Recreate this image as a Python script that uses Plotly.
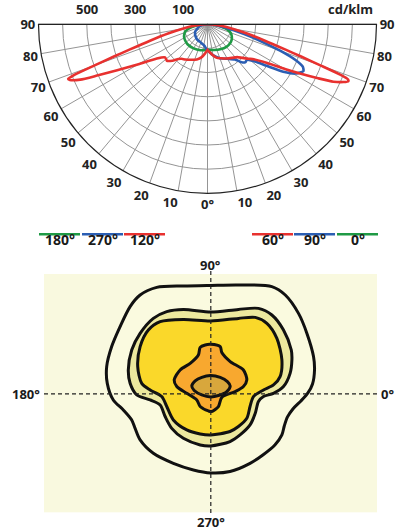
import plotly.graph_objects as go

# ---------------- data: polar intensity curves (gamma in degrees, cd/klm) -------------
# C0 (right) / C180 (left)  -> green
G_C0 = [0, 15, 27, 40, 50, 57, 63, 69, 73, 77, 81, 85, 88, 90]
I_C0 = [106, 110, 116, 122, 122, 119, 113, 104, 92, 76, 56, 32, 12, 0]
G_C180 = [0, 15, 30, 45, 55, 62, 68, 72, 76, 80, 84, 87, 90]
I_C180 = [106, 111, 115, 117, 114, 110, 103, 97, 84, 66, 45, 25, 0]

# C90 (right) / C270 (left) -> blue
G_C90 = [0, 5, 10, 20, 30, 38, 42, 45, 48, 52, 55, 58, 61, 64, 66, 68, 70, 72, 74, 77, 80, 85, 90]
I_C90 = [106, 118, 130, 150, 165, 185, 212, 222, 220, 250, 300, 370, 420, 442, 432, 390, 320, 245, 185, 115, 70, 28, 0]
G_C270 = [0, 3, 6, 10, 15, 23, 35, 45, 54, 60, 66, 75, 82, 90]
I_C270 = [106, 102, 94, 88, 84, 79, 76, 70, 64, 58, 47, 36, 22, 0]

# C60 (right) / C120 (left) -> red
G_C60 = [0, 4, 8, 15, 22, 29, 36, 42, 46, 50, 53, 57, 60, 62, 64, 65.5, 67, 68, 68.6, 69.2, 70, 71, 72, 74, 77, 80, 84, 87, 90]
I_C60 = [106, 115, 125, 143, 152, 162, 172, 183, 200, 222, 240, 295, 370, 434, 510, 573, 612, 629, 625, 590, 500, 410, 340, 250, 165, 105, 50, 20, 0]
G_C120 = [0, 5, 10, 17, 25, 32, 37, 40, 44, 48, 50, 52, 56, 60, 63, 65, 66.5, 68, 68.6, 69.2, 70, 71, 72, 74, 77, 80, 84, 87, 90]
I_C120 = [106, 122, 138, 152, 162, 172, 179, 188, 210, 226, 224, 223, 253, 330, 420, 500, 575, 615, 620, 590, 500, 410, 340, 250, 165, 105, 50, 20, 0]

R_MAX = 700
R_GRID = [100, 200, 300, 400, 500, 600]
R_LABELS = [100, 300, 500]
ANG_RIGHT = [0, 10, 20, 30, 40, 50, 60, 70, 80, 90]
ANG_LEFT = [10, 20, 30, 40, 50, 60, 70, 80, 90]

LEGEND_LEFT = ["180°", "270°", "120°"]
LEGEND_RIGHT = ["60°", "90°", "0°"]

# ---------------- data: isocandela contours (degrees-like units) -------------------
C1_X = [0, 13.8, 30.5, 37.2, 43.8, 48, 51.3, 51.8, 50.8, 48.5, 45, 41, 38.3, 36.7, 35.5, 32, 26, 19.6, 9.6, 0,
        -8.7, -18.7, -28.7, -35.3, -37.8, -39.5, -43.7, -48.7, -51.7, -52, -49.5, -45.3, -40.3, -35.3, -27, -13.7]
C1_Y = [54.3, 54.5, 53.7, 49.5, 40.3, 30.3, 18.7, 12, 5, 0.5, -3.5, -7.5, -11.5, -16, -20.5, -25.5, -30.5, -34.7, -38.8, -39.5,
        -38, -34.7, -29.7, -23, -17.2, -13, -8, -3, 5.3, 13.7, 23.7, 33.7, 43.7, 49.5, 53.3, 54]
C2_X = [0, 13.8, 23.8, 30.5, 36.3, 40.2, 40.5, 39.6, 36.3, 31.3, 26.3, 23.8, 22.2, 19.6, 14.6, 9.6, 0,
        -5.3, -13.7, -19.5, -22.8, -25.3, -30.3, -37, -40.3, -41.2, -39.5, -35.3, -28.7, -22, -13.7]
C2_Y = [41, 42.3, 42.8, 39.5, 32, 22, 17, 10.3, 3.7, 0.3, -1.3, -3.8, -9.7, -15.5, -20.5, -23.8, -26,
        -25.5, -22.2, -17.2, -11.3, -5.5, -3, -0.5, 5.3, 12, 22, 30.3, 37.8, 41.2, 42.3]
C3_X = [0, 13.8, 22.2, 28, 33, 35.5, 34.6, 31.3, 26.3, 21.3, 19.6, 18, 13.8, 9.6, 0,
        -5.3, -12, -18.7, -22, -24.5, -30.3, -34.5, -36.5, -35.3, -31.2, -25.3, -13.7]
C3_Y = [36.5, 37.8, 38.3, 35.3, 27.8, 17, 8.7, 4.5, 2, -1.3, -6.3, -12.2, -16.3, -18.8, -20.5,
        -20, -18, -13, -6.3, -1.3, 2, 5.3, 13.7, 23.7, 32, 36.2, 37.3]
C4_X = [0, 4.7, 5.5, 9.7, 16.3, 18, 16.3, 12.2, 5.5, 3.8, 0.5, -1.2, -5.3, -7, -12, -17, -18.3, -15.3, -10.3, -6.2, -5.3, -2.8]
C4_Y = [24.8, 23.7, 20.7, 16.2, 12, 7, 3.7, 1.2, -1.7, -6.3, -8.8, -8.5, -6.3, -3, 0.3, 3.7, 7, 12, 15.3, 19.5, 23.3, 24.5]
C5_X = [-0.2, 4.7, 8.3, 9.7, 8, 3.8, 0, -4.5, -8.3, -9.5, -7.8, -4.5]
C5_Y = [9.2, 8.3, 6.2, 4, 1.2, -0.8, -1.5, -0.5, 1.7, 4, 6.5, 8.3]

X_RANGE = [-83.3, 83]
Y_RANGE = [-59.2, 60]
DIR_LABELS = {"top": "90°", "bottom": "270°", "left": "180°", "right": "0°"}

# ---------------- styles ----------------
RED = "#e8312f"
BLUE = "#2b5eb3"
GREEN = "#1f9a45"
FILLS = ["#fafadf", "#ece89e", "#fad82a", "#f8a82f", "#d8a73c"]
BG = "#f9f9df"
FONT = "Open Sans"

W, H = 409, 530

fig = go.Figure()


def pair(g_left, i_left, g_right, i_right):
    th = [-g for g in reversed(g_left)] + list(g_right)
    r = list(reversed(i_left)) + list(i_right)
    return th, r


for (gl, il, gr, ir, col) in [
    (G_C180, I_C180, G_C0, I_C0, GREEN),
    (G_C270, I_C270, G_C90, I_C90, BLUE),
    (G_C120, I_C120, G_C60, I_C60, RED),
]:
    th, r = pair(gl, il, gr, ir)
    fig.add_trace(go.Scatterpolar(theta=th, r=r, mode="lines",
                                  line=dict(color=col, width=2.6, shape="spline", smoothing=0.6),
                                  hoverinfo="skip", showlegend=False, subplot="polar"))

# black frame line along the 90° - 90° diameter
fig.add_trace(go.Scatterpolar(theta=[90, 90, -90], r=[R_MAX, 0, R_MAX], mode="lines",
                              line=dict(color="#222", width=1.2), hoverinfo="skip",
                              showlegend=False, subplot="polar"))

# visible theta span with rotation -90 and sector [180, 360] is [270, 450]
tickvals = [360 - a for a in reversed(ANG_LEFT)] + [360 + a for a in ANG_RIGHT]
ticktext = [str(a) for a in reversed(ANG_LEFT)] + [("0°" if a == 0 else str(a)) for a in ANG_RIGHT]

cx0, cx1 = 38.5 / W, 376.5 / W
cy0, cy1 = 1 - 193.3 / H, 1 - 24.3 / H
CENTER_X = 207.5
RADIUS_PX = 169.0

fig.update_layout(
    polar=dict(
        domain=dict(x=[cx0, cx1], y=[cy0, cy1]),
        sector=[180, 360],
        bgcolor="white",
        angularaxis=dict(rotation=-90, direction="counterclockwise", tickmode="array",
                         tickvals=tickvals, ticktext=ticktext, showline=True,
                         linecolor="#222", linewidth=1.2, gridcolor="#959595", gridwidth=0.8,
                         ticks="", tickfont=dict(family=FONT, size=13, color="#222", weight="bold")),
        radialaxis=dict(range=[0, R_MAX], tickmode="array", tickvals=R_GRID,
                        angle=180, showline=False, ticks="", showticklabels=False,
                        gridcolor="#959595", gridwidth=0.8),
    )
)

# contour fills
for xs, ys, fc in [(C1_X, C1_Y, FILLS[0]), (C2_X, C2_Y, FILLS[1]), (C3_X, C3_Y, FILLS[2]),
                   (C4_X, C4_Y, FILLS[3]), (C5_X, C5_Y, FILLS[4])]:
    fig.add_trace(go.Scatter(x=list(xs) + [xs[0]], y=list(ys) + [ys[0]], mode="lines",
                             fill="toself", fillcolor=fc,
                             line=dict(color="#111", width=3, shape="spline", smoothing=0.8),
                             hoverinfo="skip", showlegend=False, xaxis="x", yaxis="y"))

px0, px1 = 44 / W, 377 / W
py0, py1 = 1 - 512.3 / H, 1 - 274 / H
fig.update_layout(
    xaxis=dict(domain=[px0, px1], range=X_RANGE, showgrid=False, zeroline=False,
               showticklabels=False, ticks="", fixedrange=True),
    yaxis=dict(domain=[py0, py1], range=Y_RANGE, showgrid=False, zeroline=False,
               showticklabels=False, ticks="", fixedrange=True),
    plot_bgcolor=BG, paper_bgcolor="white",
    width=W, height=H, margin=dict(l=0, r=0, t=0, b=0), showlegend=False,
)

shapes = []
# dashed axes of the contour diagram
shapes.append(dict(type="line", xref="x", yref="paper", x0=0, x1=0,
                   y0=1 - 513 / H, y1=1 - 270 / H, line=dict(color="#222", width=1.2, dash="4px,3px")))
shapes.append(dict(type="line", xref="x", yref="y", x0=X_RANGE[0], x1=X_RANGE[1], y0=0, y1=0,
                   line=dict(color="#222", width=1.2, dash="4px,3px")))

annotations = []
tick_font = dict(family=FONT, size=13, color="#222", weight="bold")
# radial scale labels along the top diameter
for rv in R_LABELS:
    annotations.append(dict(x=(CENTER_X - rv / R_MAX * RADIUS_PX) / W, y=1 - 9 / H,
                            xref="paper", yref="paper", text=str(rv), showarrow=False,
                            xanchor="center", yanchor="middle", font=tick_font))
annotations.append(dict(x=375 / W, y=1 - 9 / H, xref="paper", yref="paper", text="cd/klm",
                        showarrow=False, xanchor="right", yanchor="middle", font=tick_font))

# legend row
leg_y = 1 - 234.3 / H
txt_y = 1 - 239 / H
left_starts = [39, 82, 124]
right_starts = [252, 294, 337]
seg_w = 41
for labels, starts, cols in [(LEGEND_LEFT, left_starts, [GREEN, BLUE, RED]),
                             (LEGEND_RIGHT, right_starts, [RED, BLUE, GREEN])]:
    for lab, s, c in zip(labels, starts, cols):
        shapes.append(dict(type="line", xref="paper", yref="paper", x0=s / W, x1=(s + seg_w) / W,
                           y0=leg_y, y1=leg_y, line=dict(color=c, width=2.6)))
        annotations.append(dict(x=(s + seg_w / 2) / W, y=txt_y, xref="paper", yref="paper",
                                text=lab, showarrow=False, xanchor="center", yanchor="middle",
                                font=dict(family=FONT, size=14, color="#1a1a1a", weight="bold")))

lab_font = dict(family=FONT, size=13, color="#1a1a1a", weight="bold")
annotations += [
    dict(x=0, y=1 - 265 / H, xref="x", yref="paper", text=DIR_LABELS["top"], showarrow=False,
         xanchor="center", yanchor="middle", font=lab_font),
    dict(x=0, y=1 - 521.5 / H, xref="x", yref="paper", text=DIR_LABELS["bottom"], showarrow=False,
         xanchor="center", yanchor="middle", font=lab_font),
    dict(x=42 / W, y=0, xref="paper", yref="y", text=DIR_LABELS["left"], showarrow=False,
         xanchor="right", yanchor="middle", font=lab_font),
    dict(x=379 / W, y=0, xref="paper", yref="y", text=DIR_LABELS["right"], showarrow=False,
         xanchor="left", yanchor="middle", font=lab_font),
]

fig.update_layout(shapes=shapes, annotations=annotations)
fig.write_html("out.html")
